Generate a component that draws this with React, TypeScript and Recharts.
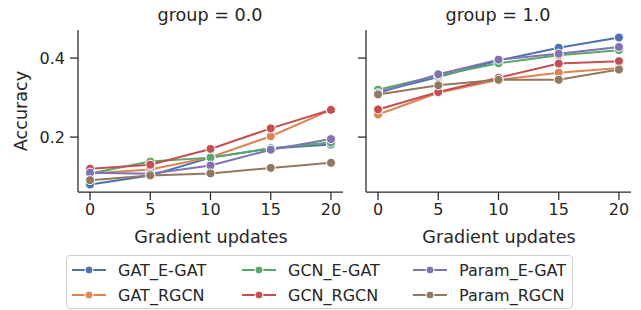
import React from 'react';
import { LineChart, Line, XAxis, YAxis } from 'recharts';

const steps = [0, 5, 10, 15, 20];
const seriesNames = ['GAT_E-GAT', 'GAT_RGCN', 'GCN_E-GAT', 'GCN_RGCN', 'Param_E-GAT', 'Param_RGCN'];
const colors = ['#4c72b0', '#dd8452', '#55a868', '#c44e52', '#8172b3', '#937860'];

// group = 0.0
const group0 = [
    [0.080, 0.103, 0.148, 0.171, 0.181],
    [0.108, 0.118, 0.149, 0.202, 0.269],
    [0.108, 0.138, 0.148, 0.172, 0.186],
    [0.120, 0.130, 0.170, 0.222, 0.269],
    [0.110, 0.107, 0.128, 0.168, 0.195],
    [0.091, 0.103, 0.108, 0.122, 0.135],
];

// group = 1.0
const group1 = [
    [0.314, 0.352, 0.394, 0.426, 0.452],
    [0.257, 0.312, 0.345, 0.363, 0.375],
    [0.320, 0.356, 0.387, 0.407, 0.420],
    [0.270, 0.314, 0.350, 0.386, 0.392],
    [0.311, 0.359, 0.396, 0.411, 0.428],
    [0.308, 0.331, 0.345, 0.345, 0.371],
];

const yTicks = [0.2, 0.4];
const xTicks = [0, 5, 10, 15, 20];

const buildData = (group: number[][]) =>
    steps.map((s, i) => {
        const row: any = { step: s };
        seriesNames.forEach((name, k) => {
            row[name] = group[k][i];
        });
        return row;
    });

const ink = '#262626';
const font = 'DejaVu Sans, sans-serif';
const tickStyle = { fill: ink, fontSize: 16, fontFamily: font };

type PanelProps = {
    data: any[];
    width: number;
    marginLeft: number;
    yAxisWidth: number;
    showYLabels: boolean;
};

const Panel: React.FC<PanelProps> = ({ data, width, marginLeft, yAxisWidth, showYLabels }) => (
    <LineChart
        width={width}
        height={230}
        data={data}
        margin={{ top: 30, right: 10, bottom: 8, left: marginLeft }}
    >
        <XAxis
            dataKey="step"
            type="number"
            domain={[-1, 21]}
            ticks={xTicks}
            height={30}
            tickSize={8}
            tickMargin={4}
            tick={tickStyle}
            stroke={ink}
            strokeWidth={1.25}
            interval={0}
        />
        <YAxis
            type="number"
            domain={[0.061, 0.471]}
            ticks={yTicks}
            allowDataOverflow
            width={yAxisWidth}
            tickSize={8}
            tickMargin={5}
            tick={tickStyle}
            tickFormatter={(v: number) => (showYLabels ? v.toFixed(1) : '')}
            stroke={ink}
            strokeWidth={1.25}
        />
        {seriesNames.map((name, i) => (
            <Line
                key={name}
                type="linear"
                dataKey={name}
                stroke={colors[i]}
                strokeWidth={2}
                dot={{ r: 4.5, fill: colors[i], stroke: '#fff', strokeWidth: 1 }}
                isAnimationActive={false}
            />
        ))}
    </LineChart>
);

const text: React.CSSProperties = {
    position: 'absolute',
    fontFamily: font,
    fontSize: 17.6,
    color: ink,
    whiteSpace: 'nowrap',
    lineHeight: '20px',
};

const legendCols = [
    [0, 1],
    [2, 3],
    [4, 5],
];
const colLeft = [5, 175, 346];

export default function App() {
    const data0 = buildData(group0);
    const data1 = buildData(group1);

    return (
        <div style={{ position: 'absolute', left: 0, top: 0, width: 641, height: 310, background: '#fff' }}>
            <div style={{ position: 'absolute', left: 0, top: 0 }}>
                <Panel data={data0} width={353} marginLeft={18} yAxisWidth={60} showYLabels />
            </div>
            <div style={{ position: 'absolute', left: 320, top: 0 }}>
                <Panel data={data1} width={321} marginLeft={26} yAxisWidth={20} showYLabels={false} />
            </div>

            <div style={{ ...text, left: 210, top: 5, transform: 'translateX(-50%)' }}>group = 0.0</div>
            <div style={{ ...text, left: 498, top: 5, transform: 'translateX(-50%)' }}>group = 1.0</div>
            <div style={{ ...text, left: 211, top: 227, transform: 'translateX(-50%)' }}>Gradient updates</div>
            <div style={{ ...text, left: 499, top: 227, transform: 'translateX(-50%)' }}>Gradient updates</div>
            <div
                style={{
                    ...text,
                    left: 21,
                    top: 111,
                    transform: 'translate(-50%, -50%) rotate(-90deg)',
                }}
            >
                Accuracy
            </div>

            <div
                style={{
                    position: 'absolute',
                    left: 66,
                    top: 255,
                    width: 505,
                    height: 52,
                    border: '1px solid #d0d0d0',
                    borderRadius: 4,
                }}
            >
                {legendCols.map((col, c) =>
                    col.map((k, r) => (
                        <div
                            key={seriesNames[k]}
                            style={{ position: 'absolute', left: colLeft[c], top: 3 + r * 25, height: 22, display: 'flex', alignItems: 'center' }}
                        >
                            <svg width={34} height={12}>
                                <line x1={0} y1={6} x2={34} y2={6} stroke={colors[k]} strokeWidth={2} />
                                <circle cx={17} cy={6} r={4} fill={colors[k]} stroke="#fff" strokeWidth={1} />
                            </svg>
                            <span style={{ fontFamily: font, fontSize: 16, color: ink, marginLeft: 12 }}>{seriesNames[k]}</span>
                        </div>
                    ))
                )}
            </div>
        </div>
    );
}
